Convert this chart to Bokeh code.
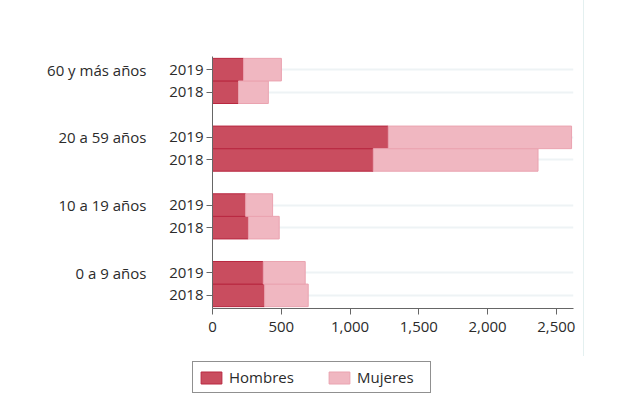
from bokeh.plotting import figure
from bokeh.models import (FactorRange, Range1d, NumeralTickFormatter, SingleIntervalTicker,
                          CategoricalAxis, Spacer)
from bokeh.layouts import column, row
from bokeh.embed import file_html
from bokeh.resources import INLINE

groups = ["0 a 9 años", "10 a 19 años", "20 a 59 años", "60 y más años"]
years = ["2018", "2019"]
hombres = [379, 369, 261, 241, 1169, 1278, 189, 226]
mujeres = [317, 305, 224, 196, 1198, 1333, 217, 275]
series = ["Hombres", "Mujeres"]
colors = ["#c94d5f", "#f0b7c1"]
outlines = ["#b92840", "#eaa3b0"]

factors = [(g, y) for g in groups for y in years]
FONT = "Open Sans"
TXT = "#2b2b2b"
PAD = 0.015

p = figure(width=584, height=356, output_backend="svg", toolbar_location=None,
           x_range=Range1d(0, 2625),
           y_range=FactorRange(*factors, group_padding=1.0, range_padding=PAD),
           min_border_left=212, min_border_right=11, min_border_top=56, min_border_bottom=48)
p.outline_line_color = None
p.styles = {"border-right": "1px solid #e4f0f0"}

source = dict(y=factors, Hombres=hombres, Mujeres=mujeres)
p.hbar_stack(series, y="y", height=1.0, source=source,
             fill_color=colors, line_color=outlines, line_width=1)

p.xgrid.grid_line_color = None
p.ygrid.grid_line_color = "#eef3f5"
p.ygrid.grid_line_width = 2

p.xaxis.ticker = SingleIntervalTicker(interval=500)
p.xaxis.formatter = NumeralTickFormatter(format="0,0")
for ax in (p.xaxis[0], p.yaxis[0]):
    ax.axis_line_color = "#666666"
    ax.major_tick_line_color = "#666666"
    ax.major_tick_out = 6
    ax.major_tick_in = 0
    ax.minor_tick_line_color = None
    ax.major_label_text_font = FONT
    ax.major_label_text_font_size = "15px"
    ax.major_label_text_color = TXT
p.xaxis.major_label_standoff = 7
p.yaxis.major_label_standoff = 3
p.yaxis.group_text_color = None
p.yaxis.group_text_font_size = "0px"
p.yaxis.separator_line_color = None

# group-name axis: one slot per bar row plus one per gap between groups,
# with the name on the 2019 row of each group
slots = []
k = 1
for i, g in enumerate(groups):
    slots.append(" " * k); k += 1          # 2018 row
    slots.append(g)                         # 2019 row
    if i < len(groups) - 1:
        slots.append(" " * k); k += 1      # gap
p.extra_y_ranges = {"grp": FactorRange(*slots, range_padding=PAD)}
gax = CategoricalAxis(y_range_name="grp")
gax.axis_line_color = None
gax.major_tick_line_color = None
gax.major_tick_out = 0
gax.major_tick_in = 0
gax.minor_tick_line_color = None
gax.major_label_standoff = 20
gax.major_label_text_font = FONT
gax.major_label_text_font_size = "15px"
gax.major_label_text_color = TXT
p.add_layout(gax, "left")

# legend in its own strip below the chart (legend-only renderers carry no data)
lf = figure(width=240, height=44, output_backend="svg", toolbar_location=None,
            x_range=Range1d(0, 1), y_range=Range1d(0, 1),
            min_border_left=0, min_border_right=0, min_border_top=0, min_border_bottom=0)
lf.axis.visible = False
lf.grid.visible = False
lf.outline_line_color = None
nan = float("nan")
for s, c, o in zip(series, colors, outlines):
    lf.hbar(y=[nan], right=[nan], height=1, fill_color=c, line_color=o, line_width=1,
            legend_label=s)
lg = lf.legend[0]
lg.location = (0, 7)
lg.orientation = "horizontal"
lg.margin = 0
lg.padding = 5
lg.spacing = 29
lg.glyph_width = 26
lg.glyph_height = 15
lg.label_standoff = 5
lg.label_width = 68
lg.label_height = 20
lg.label_text_font = FONT
lg.label_text_font_size = "15px"
lg.label_text_color = TXT
lg.border_line_color = "#222222"
lg.border_line_width = 1

layout = column(p, row(Spacer(width=192), lf))
open("out.html", "w").write(file_html(layout, INLINE))
